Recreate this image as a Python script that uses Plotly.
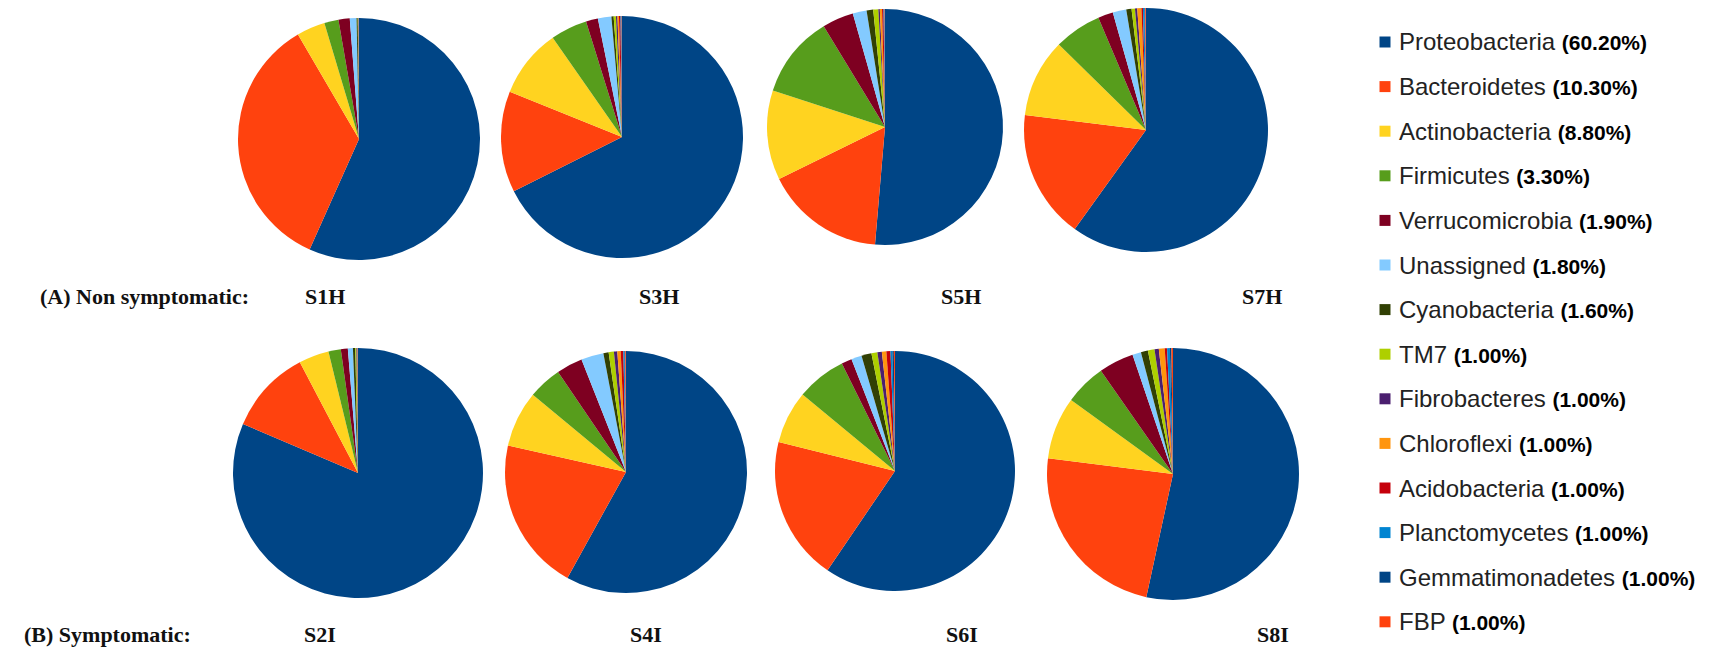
import plotly.graph_objects as go

W, H = 1722, 656

# Phyla (order of slices and legend entries)
phyla = ["Proteobacteria", "Bacteroidetes", "Actinobacteria", "Firmicutes",
         "Verrucomicrobia", "Unassigned", "Cyanobacteria", "TM7", "Fibrobacteres",
         "Chloroflexi", "Acidobacteria", "Planctomycetes", "Gemmatimonadetes", "FBP"]
overall_pct = ["60.20%", "10.30%", "8.80%", "3.30%", "1.90%", "1.80%", "1.60%",
               "1.00%", "1.00%", "1.00%", "1.00%", "1.00%", "1.00%", "1.00%"]
colors = ["#004586", "#ff420e", "#ffd320", "#579d1c", "#7e0021", "#83caff", "#314004",
          "#aecf00", "#4b1f6f", "#ff950e", "#c5000b", "#0084d1", "#004586", "#ff420e"]

# Relative abundance (%) per sample
S1H = [56.7, 34.9, 3.8, 1.9, 1.5, 0.9, 0.15, 0.05, 0.03, 0.03, 0.02, 0.02, 0.01, 0.01]
S3H = [67.6, 13.5, 9.2, 4.9, 1.6, 1.8, 0.3, 0.3, 0.2, 0.2, 0.2, 0.1, 0.05, 0.05]
S5H = [51.4, 16.4, 12.3, 11.3, 4.3, 1.9, 0.9, 0.7, 0.2, 0.3, 0.2, 0.1, 0.05, 0.05]
S7H = [60.1, 17.1, 10.4, 6.3, 2.0, 1.8, 0.7, 0.45, 0.3, 0.55, 0.2, 0.2, 0.1, 0.1]
S2I = [81.4, 10.9, 3.9, 1.6, 0.9, 0.65, 0.3, 0.15, 0.08, 0.05, 0.03, 0.02, 0.01, 0.01]
S4I = [58.1, 20.5, 7.5, 4.5, 3.5, 3.0, 0.7, 0.7, 0.45, 0.45, 0.35, 0.15, 0.1, 0.1]
S6I = [59.5, 19.4, 7.1, 6.7, 1.4, 1.4, 1.35, 0.8, 0.6, 0.6, 0.55, 0.25, 0.2, 0.15]
S8I = [53.4, 23.6, 8.0, 5.3, 4.5, 1.1, 0.9, 0.85, 0.55, 0.75, 0.3, 0.35, 0.2, 0.2]

samples = ["S1H", "S3H", "S5H", "S7H", "S2I", "S4I", "S6I", "S8I"]
values = [S1H, S3H, S5H, S7H, S2I, S4I, S6I, S8I]

# Pie placement in pixels: (center x, center y, radius)
pie_geom = [(359, 139, 121), (622, 137, 121), (885, 127, 118), (1146, 130, 122),
            (358, 473, 125), (626, 472, 121), (895, 471, 120), (1173, 474, 126)]

fig = go.Figure()
for name, vals, (cx, cy, r) in zip(samples, values, pie_geom):
    fig.add_trace(go.Pie(
        name=name, labels=phyla, values=vals, sort=False,
        direction="clockwise", rotation=0,
        marker=dict(colors=colors, line=dict(width=0)),
        textinfo="none", showlegend=False,
        hovertemplate=name + "<br>%{label}: %{value}%<extra></extra>",
        domain=dict(x=[(cx - r) / W, (cx + r) / W],
                    y=[1 - (cy + r) / H, 1 - (cy - r) / H]),
    ))

annotations = []
serif = dict(family="Liberation Serif", size=22, color="#111111")

# Group captions and sample names
row_captions = [("(A) Non symptomatic:", 38, 296), ("(B) Symptomatic:", 22, 634)]
for text, x, y in row_captions:
    annotations.append(dict(text="<b>" + text + "</b>", x=x / W, y=1 - y / H,
                            xref="paper", yref="paper", xanchor="left", yanchor="middle",
                            showarrow=False, font=serif))
label_pos = [(325, 296), (659, 296), (961, 296), (1262, 296),
             (320, 634), (646, 634), (962, 634), (1273, 634)]
for name, (x, y) in zip(samples, label_pos):
    annotations.append(dict(text="<b>" + name + "</b>", x=x / W, y=1 - y / H,
                            xref="paper", yref="paper", xanchor="center", yanchor="middle",
                            showarrow=False, font=serif))

# Legend: colour square + phylum name + overall share
shapes = []
leg_x, leg_y0, leg_dy, sq = 1385, 42, 44.6, 11
for i, (ph, pct, col) in enumerate(zip(phyla, overall_pct, colors)):
    y = leg_y0 + i * leg_dy
    shapes.append(dict(type="rect", xref="paper", yref="paper",
                       x0=(leg_x - sq / 2) / W, x1=(leg_x + sq / 2) / W,
                       y0=1 - (y + sq / 2) / H, y1=1 - (y - sq / 2) / H,
                       fillcolor=col, line=dict(width=0)))
    annotations.append(dict(
        text=ph + ' <span style="font-size:21px;color:#000000"><b>(' + pct + ')</b></span>',
        x=(leg_x + 12) / W, y=1 - y / H, xref="paper", yref="paper",
        xanchor="left", yanchor="middle", showarrow=False,
        font=dict(family="Liberation Sans", size=24, color="#222222")))

fig.update_layout(
    width=W, height=H, margin=dict(l=0, r=0, t=0, b=0),
    paper_bgcolor="white", plot_bgcolor="white",
    annotations=annotations, shapes=shapes,
)

fig.write_html("out.html")
